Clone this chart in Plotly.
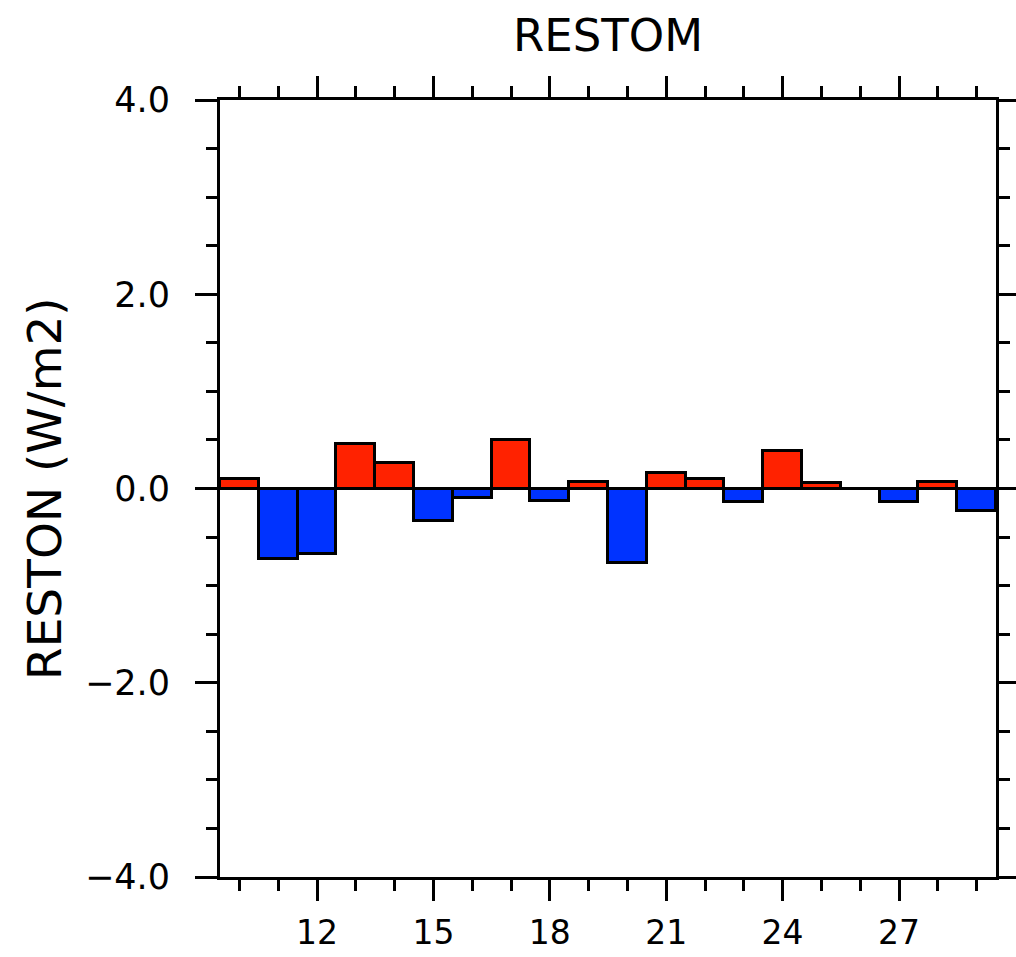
import plotly.graph_objects as go

years = list(range(10, 30))
restom = [0.10, -0.73, -0.67, 0.46, 0.26, -0.33, -0.10, 0.50, -0.13, 0.065,
          -0.77, 0.16, 0.095, -0.14, 0.39, 0.06, 0.0, -0.14, 0.065, -0.23]
x_tickvals = [12, 15, 18, 21, 24, 27]
y_tickvals = [-4, -2, 0, 2, 4]
title_text = "RESTOM"
ylabel_text = "RESTON (W/m2)"

POS_COLOR = "#ff2200"
NEG_COLOR = "#0033ff"
colors = [POS_COLOR if v >= 0 else NEG_COLOR for v in restom]

FONT = "DejaVu Sans"

fig = go.Figure()
fig.add_trace(go.Bar(
    x=years, y=restom, width=1.0,
    marker=dict(color=colors, line=dict(color="black", width=3)),
    showlegend=False,
))

L, R, T, B = 220, 20, 100, 80
W, H = 1016, 957
pw, ph = W - L - R, H - T - B

fig.update_layout(
    width=W, height=H,
    margin=dict(l=L, r=R, t=T, b=B, pad=0, autoexpand=False),
    paper_bgcolor="white", plot_bgcolor="white",
    bargap=0,
    font=dict(family=FONT, size=35, color="black"),
    xaxis=dict(
        range=[9.5, 29.5], tickmode="array", tickvals=x_tickvals,
        automargin=False,
        ticks="outside", ticklen=21, tickwidth=2.5, tickcolor="black",
        showline=True, linecolor="black", linewidth=3, mirror="ticks",
        showgrid=False, zeroline=False,
        ticklabelstandoff=3,
        tickfont=dict(family=FONT, size=33),
        minor=dict(dtick=1, tick0=0, ticks="outside", ticklen=11, tickwidth=2.5,
                   tickcolor="black", showgrid=False),
    ),
    yaxis=dict(
        range=[-4, 4], tickmode="array", tickvals=y_tickvals,
        automargin=False,
        tickformat=".1f",
        ticks="outside", ticklen=22, tickwidth=2.5, tickcolor="black",
        showline=True, linecolor="black", linewidth=3, mirror="ticks",
        showgrid=False,
        zeroline=True, zerolinecolor="black", zerolinewidth=2.5,
        ticklabelstandoff=18,
        tickfont=dict(family=FONT, size=35),
        minor=dict(dtick=0.5, tick0=0, ticks="outside", ticklen=11, tickwidth=2.5,
                   tickcolor="black", showgrid=False),
    ),
    annotations=[
        dict(text=title_text, xref="paper", yref="paper",
             x=(608 - L) / pw, y=(H - B - 35) / ph,
             xanchor="center", yanchor="middle", showarrow=False,
             font=dict(family=FONT, size=45, color="black")),
        dict(text=ylabel_text, xref="paper", yref="paper",
             x=(45 - L) / pw, y=(H - B - 489) / ph, textangle=-90,
             xanchor="center", yanchor="middle", showarrow=False,
             font=dict(family=FONT, size=47, color="black")),
    ],
)

fig.write_html("out.html")
